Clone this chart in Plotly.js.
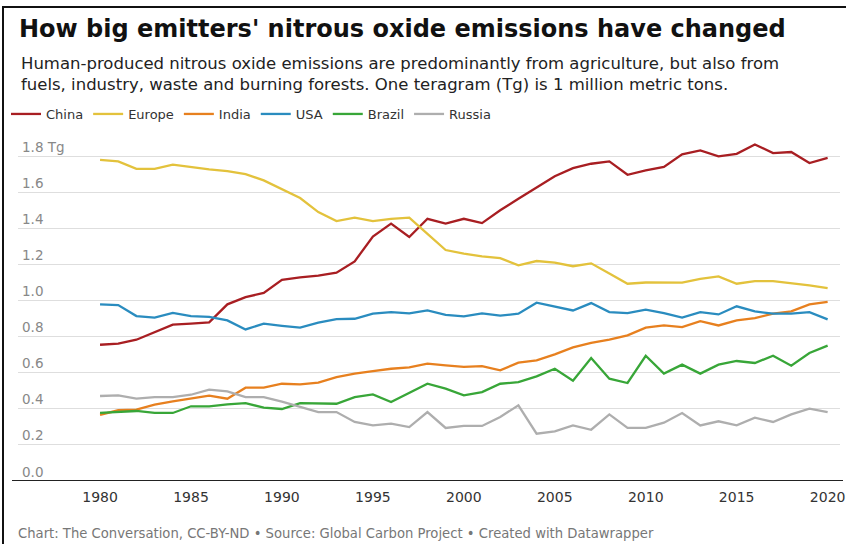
<!DOCTYPE html>
<html>
<head>
<meta charset="utf-8">
<script src="https://cdn.plot.ly/plotly-3.0.1.min.js"></script>
<style>
  html, body { margin: 0; padding: 0; background: #fff; }
  #wrap { position: relative; width: 846px; height: 544px; overflow: hidden; }
  #chart { position: absolute; left: 0; top: 0; width: 846px; height: 544px; }
  #frame { position: absolute; left: 2px; top: 6px; width: 860px; height: 560px;
           border-top: 2px solid #111; border-left: 2px solid #111; pointer-events: none; }
</style>
</head>
<body>
<div id="wrap"><div id="chart"></div><div id="frame"></div></div>
<script>
const years = [];
for (let y = 1980; y <= 2020; y++) years.push(y);

const china = [0.755,0.761,0.783,0.825,0.866,0.872,0.879,0.979,1.019,1.042,1.115,1.128,1.138,1.154,1.217,1.355,1.426,1.352,1.453,1.426,1.453,1.429,1.500,1.564,1.625,1.689,1.734,1.758,1.771,1.697,1.721,1.740,1.810,1.832,1.799,1.813,1.865,1.817,1.823,1.762,1.791];
const europe = [1.780,1.771,1.730,1.730,1.753,1.738,1.727,1.717,1.700,1.666,1.617,1.568,1.490,1.440,1.459,1.440,1.452,1.459,1.370,1.280,1.260,1.245,1.235,1.195,1.219,1.210,1.190,1.206,1.150,1.093,1.100,1.100,1.099,1.120,1.134,1.093,1.108,1.108,1.097,1.084,1.069];
const india = [0.367,0.392,0.395,0.423,0.441,0.456,0.473,0.456,0.517,0.517,0.539,0.535,0.545,0.576,0.595,0.609,0.622,0.630,0.650,0.641,0.632,0.637,0.613,0.656,0.668,0.702,0.740,0.765,0.783,0.807,0.850,0.862,0.853,0.886,0.862,0.890,0.903,0.927,0.940,0.979,0.992];
const usa = [0.979,0.975,0.914,0.905,0.931,0.914,0.909,0.890,0.840,0.872,0.860,0.850,0.877,0.897,0.899,0.927,0.936,0.929,0.945,0.921,0.912,0.929,0.916,0.927,0.988,0.965,0.945,0.986,0.936,0.930,0.949,0.930,0.905,0.936,0.923,0.968,0.940,0.927,0.927,0.936,0.896];
const brazil = [0.377,0.382,0.388,0.377,0.377,0.414,0.414,0.425,0.432,0.406,0.399,0.432,0.428,0.428,0.465,0.480,0.438,0.489,0.539,0.512,0.475,0.493,0.539,0.548,0.580,0.622,0.556,0.681,0.567,0.543,0.694,0.595,0.645,0.595,0.645,0.665,0.654,0.694,0.639,0.709,0.750];
const russia = [0.471,0.475,0.456,0.465,0.465,0.478,0.506,0.497,0.465,0.465,0.440,0.410,0.382,0.382,0.327,0.308,0.318,0.299,0.382,0.294,0.305,0.305,0.355,0.419,0.262,0.275,0.308,0.284,0.369,0.294,0.294,0.323,0.377,0.308,0.331,0.308,0.351,0.327,0.369,0.401,0.382];

const seriesNames = ["China","Europe","India","USA","Brazil","Russia"];
const seriesData = [china, europe, india, usa, brazil, russia];
const seriesColors = ["#a81e22","#e3c23c","#e7801f","#2a8cbf","#38a638","#aeaeae"];

const yTickVals = [0,0.2,0.4,0.6,0.8,1.0,1.2,1.4,1.6,1.8];
const yTickText = ["0.0","0.2","0.4","0.6","0.8","1.0","1.2","1.4","1.6","1.8 Tg"];
const xTickVals = [1980,1985,1990,1995,2000,2005,2010,2015,2020];

const titleText = "How big emitters' nitrous oxide emissions have changed";
const subtitleText = "Human-produced nitrous oxide emissions are predominantly from agriculture, but also from<br>fuels, industry, waste and burning forests. One teragram (Tg) is 1 million metric tons.";
const footerText = "Chart: The Conversation, CC-BY-ND • Source: Global Carbon Project • Created with Datawrapper";

const FONT = "'DejaVu Sans', Roboto, sans-serif";

const traces = seriesNames.map((n, i) => ({
  type: "scatter", mode: "lines", name: n,
  x: years, y: seriesData[i],
  line: { color: seriesColors[i], width: 2.3 },
  hoverinfo: "skip"
}));

// y-axis labels sit just above their gridlines, at the left edge of the plot
const yLabelAnnotations = yTickVals.map((v, i) => ({
  text: yTickText[i], xref: "paper", yref: "y", x: 2/822, y: v,
  xanchor: "left", yanchor: "middle", yshift: 9.5, showarrow: false,
  font: { family: FONT, size: 13.5, color: "#888" }
}));

// plot area: top 130px, bottom at 481px (paper y: px = 481 - 351*y)
const layout = {
  width: 846, height: 544,
  margin: { l: 18, r: 6, t: 130, b: 63 },
  paper_bgcolor: "#fff", plot_bgcolor: "#fff",
  font: { family: FONT, color: "#333" },
  title: {
    text: "<b>" + titleText + "</b>",
    font: { family: FONT, size: 24, color: "#111" },
    xref: "container", yref: "container", x: 19/846, xanchor: "left",
    y: 1 - 28.5/544, yanchor: "middle"
  },
  annotations: [
    { text: subtitleText, xref: "paper", yref: "paper",
      x: 1/822, y: (481 - 52)/351, xanchor: "left", yanchor: "top",
      align: "left", showarrow: false,
      font: { family: FONT, size: 16.5, color: "#222" } },
    { text: footerText, xref: "paper", yref: "paper",
      x: -2/822, y: -(533.5 - 481)/351, xanchor: "left", yanchor: "middle",
      align: "left", showarrow: false,
      font: { family: FONT, size: 13.2, color: "#777" } }
  ].concat(yLabelAnnotations),
  shapes: [
    { type: "line", xref: "paper", yref: "y", x0: -6/822, x1: 1 + 3/822, y0: 0, y1: 0,
      line: { color: "#222", width: 2 } }
  ],
  showlegend: true,
  legend: {
    orientation: "h", xref: "container", yref: "container",
    x: 6/846, xanchor: "left", y: 1 - 99/544, yanchor: "top",
    font: { family: FONT, size: 13, color: "#333" }, tracegroupgap: 0,
    bgcolor: "rgba(0,0,0,0)"
  },
  xaxis: {
    range: [1975.49, 2020.68], tickvals: xTickVals, showgrid: false, zeroline: false,
    showline: false, ticks: "", ticklabelstandoff: 6,
    tickfont: { family: FONT, size: 14, color: "#333" }, fixedrange: true
  },
  yaxis: {
    range: [0, 1.945], tickvals: yTickVals, showticklabels: false,
    showgrid: true, gridcolor: "#dedede", gridwidth: 1,
    zeroline: false, showline: false, ticks: "", fixedrange: true
  }
};

Plotly.newPlot("chart", traces, layout, { displayModeBar: false, staticPlot: true });
</script>
</body>
</html>
